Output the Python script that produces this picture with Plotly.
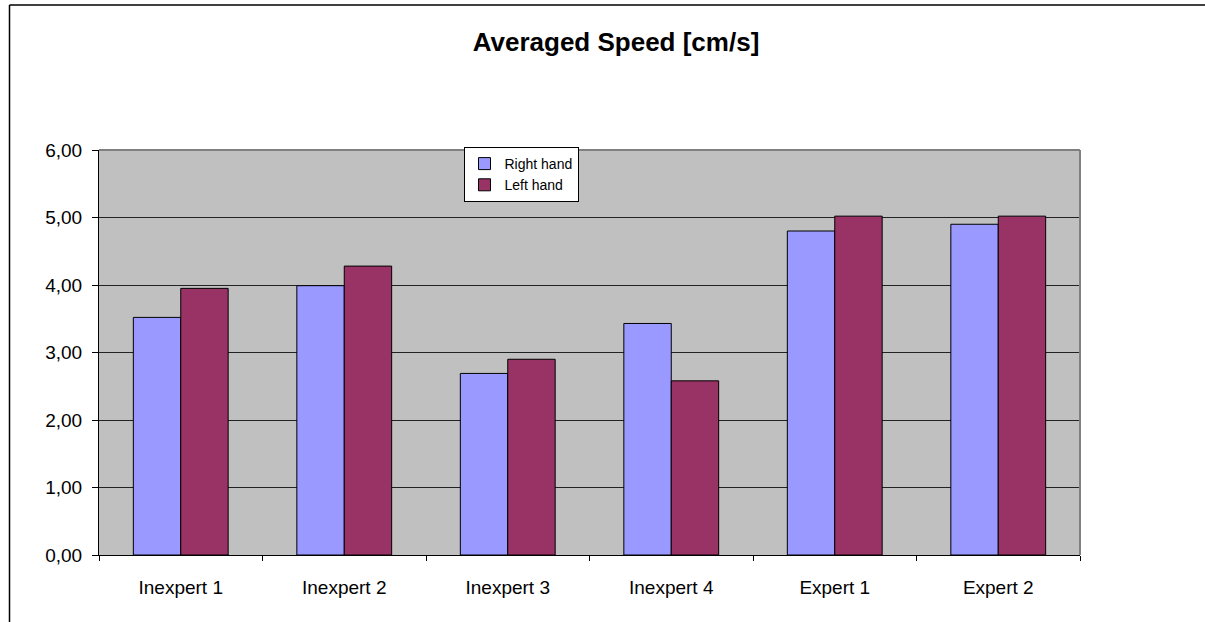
import plotly.graph_objects as go

categories = ["Inexpert 1", "Inexpert 2", "Inexpert 3", "Inexpert 4", "Expert 1", "Expert 2"]
right_hand = [3.52, 3.99, 2.69, 3.43, 4.80, 4.90]
left_hand = [3.95, 4.28, 2.90, 2.58, 5.02, 5.02]
y_ticks = [0, 1, 2, 3, 4, 5, 6]

W, H = 1205, 622
L, R, T, B = 99, 125, 150, 67
pw, ph = W - L - R, H - T - B

def px_x(p):
    return (p - L) / pw

def px_y(p):
    return (H - B - p) / ph

font = "Liberation Sans, Arial, sans-serif"

fig = go.Figure()
fig.add_trace(go.Bar(name="Right hand", x=categories, y=right_hand,
                     marker=dict(color="#9999FF", line=dict(color="black", width=1))))
fig.add_trace(go.Bar(name="Left hand", x=categories, y=left_hand,
                     marker=dict(color="#993366", line=dict(color="black", width=1))))

fig.update_layout(
    width=W, height=H,
    margin=dict(l=L, r=R, t=T, b=B, pad=0),
    paper_bgcolor="white",
    plot_bgcolor="#C0C0C0",
    separators=",.",
    barmode="group",
    bargap=0.42,
    bargroupgap=0,
    font=dict(family=font, color="black"),
    title=dict(text="<b>Averaged Speed [cm/s]</b>", x=616 / W, xanchor="center",
               y=1 - 42 / H, yanchor="middle", font=dict(size=26, family=font)),
    legend=dict(x=px_x(521), y=px_y(147), xanchor="center", yanchor="top",
                bgcolor="white", bordercolor="black", borderwidth=1,
                font=dict(size=14, family=font), tracegroupgap=0,
                itemwidth=30),
    showlegend=True,
)

fig.update_yaxes(range=[0, 6], tickvals=y_ticks, tickformat=".2f",
                 showgrid=True, gridcolor="#222222", gridwidth=1,
                 zeroline=False, showline=True, linecolor="black", linewidth=1,
                 ticks="outside", ticklen=6, tickcolor="black",
                 tickfont=dict(size=19, family=font), ticklabelstandoff=6)
fig.update_xaxes(showgrid=False, showline=True, linecolor="black", linewidth=1,
                 ticks="outside", ticklen=5, tickcolor="black", tickson="boundaries",
                 tickfont=dict(size=19, family=font), ticklabelstandoff=15)

# plot area frame (gray top/right edges)
fig.add_shape(type="line", xref="paper", yref="paper", x0=0, x1=1, y0=1, y1=1,
              line=dict(color="#808080", width=2), layer="above")
fig.add_shape(type="line", xref="paper", yref="paper", x0=1, x1=1, y0=0, y1=1,
              line=dict(color="#808080", width=2), layer="above")
# outer chart frame (top and left edges)
fig.add_shape(type="line", xref="paper", yref="paper", x0=px_x(9.5), x1=px_x(W + 5),
              y0=px_y(5), y1=px_y(5), line=dict(color="black", width=1.5))
fig.add_shape(type="line", xref="paper", yref="paper", x0=px_x(9.5), x1=px_x(9.5),
              y0=px_y(5), y1=px_y(H + 5), line=dict(color="black", width=1.5))

fig.write_html("out.html", config={"displayModeBar": False},
               post_script="document.body.style.margin='0';")
